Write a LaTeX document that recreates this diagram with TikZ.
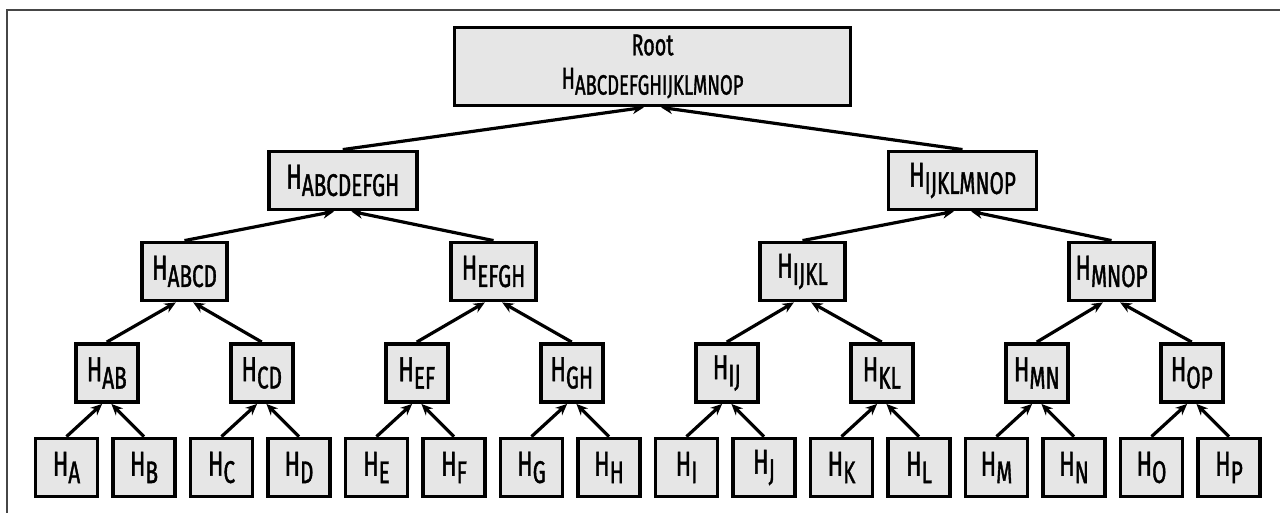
\documentclass[tikz,border=0pt]{standalone}
\usepackage{fontspec}
\setmainfont[FakeStretch=0.66,FakeBold=1.2]{Fira Sans}
\usetikzlibrary{arrows.meta}
\definecolor{boxfill}{RGB}{230,230,230}
\definecolor{framecol}{RGB}{70,70,70}
% hash label: H with a lowered, slightly smaller index
\def\subsz{\fontsize{23.5}{24}\selectfont}
\def\sublow{5.5pt}
\newcommand\hsub[1]{H\raisebox{-\sublow}{\subsz #1}}
\tikzset{
  hashbox/.style={draw=black, line width=2.9pt, fill=boxfill, inner sep=0pt,
    minimum height={58*0.75pt}, font=\fontsize{26}{30}\selectfont},
  leafbox/.style={hashbox, minimum width={62*0.75pt}},
  pairbox/.style={hashbox, minimum width={62*0.75pt}},
  quadbox/.style={hashbox, minimum width={85*0.75pt}},
  octbox/.style={hashbox, minimum width={148*0.75pt}},
  rootbox/.style={hashbox, minimum width={396*0.75pt}, minimum height={78*0.75pt},
    align=center,
    font={\fontsize{22.5}{26}\selectfont\def\subsz{\fontsize{21}{22}\selectfont}\def\sublow{4.5pt}}},
  conn/.style={draw=black, line width=2.4pt, -{Stealth[length=8.5pt,width=7.5pt]}}
}
\begin{document}
\begin{tikzpicture}[x=0.75pt,y=-0.75pt]
\useasboundingbox (0,0) rectangle (1280,512);
% frame
\draw[framecol, line width=1.5pt] (1285,10) -- (7,10) -- (7,520);

% leaves
\foreach \l [count=\i from 0] in {A,B,C,D,E,F,G,H,I,J,K,L,M,N,O,P}
  \node[leafbox] (H\l) at ({66.5+77.5*\i},467.5) {\hsub{\l}};

% level 2
\foreach \p [count=\i from 0] in {AB,CD,EF,GH,IJ,KL,MN,OP}
  \node[pairbox] (H\p) at ({106.75+155*\i},373) {\hsub{\p}};

% level 3
\foreach \p [count=\i from 0] in {ABCD,EFGH,IJKL,MNOP}
  \node[quadbox] (H\p) at ({184.5+309*\i},271.5) {\hsub{\p}};

% level 4
\node[octbox] (HABCDEFGH) at (342.75,180.5) {\hsub{ABCDEFGH}};
\node[octbox] (HIJKLMNOP) at (962.5,180.5) {\hsub{IJKLMNOP}};

% root
\node[rootbox] (root) at (652.5,66.5) {Root\\[-1pt]\hsub{ABCDEFGHIJKLMNOP}};

% connectors
\foreach \p/\a/\b in {AB/A/B,CD/C/D,EF/E/F,GH/G/H,IJ/I/J,KL/K/L,MN/M/N,OP/O/P} {
  \draw[conn] (H\a.north) -- ([xshift=-3.5pt]H\p.south);
  \draw[conn] (H\b.north) -- ([xshift=3.5pt]H\p.south);
}
\foreach \p/\a/\b in {ABCD/AB/CD,EFGH/EF/GH,IJKL/IJ/KL,MNOP/MN/OP,
                      ABCDEFGH/ABCD/EFGH,IJKLMNOP/IJKL/MNOP} {
  \draw[conn] (H\a.north) -- ([xshift=-6.5pt]H\p.south);
  \draw[conn] (H\b.north) -- ([xshift=6.5pt]H\p.south);
}
\draw[conn] (HABCDEFGH.north) -- ([xshift=-6.5pt]root.south);
\draw[conn] (HIJKLMNOP.north) -- ([xshift=6.5pt]root.south);
\end{tikzpicture}
\end{document}
